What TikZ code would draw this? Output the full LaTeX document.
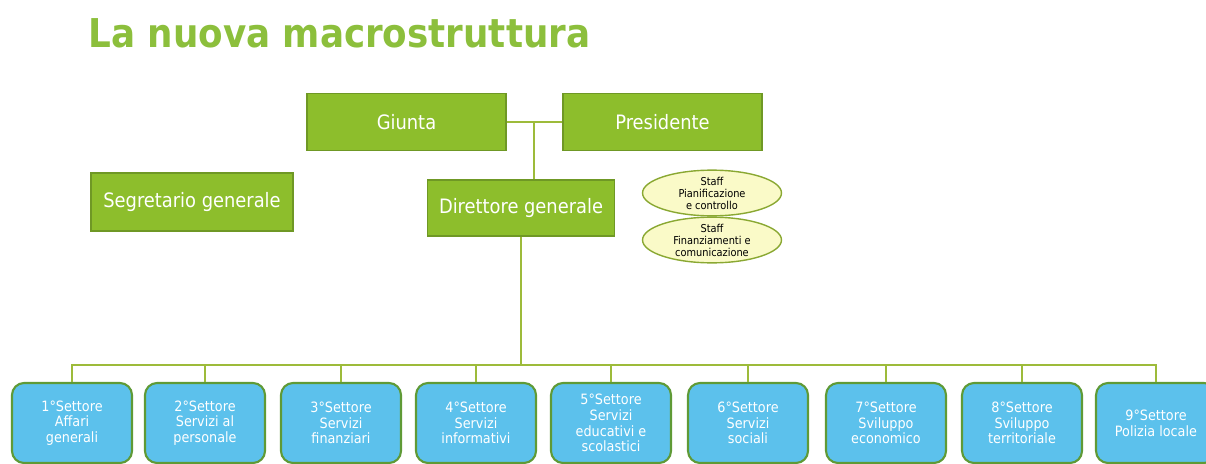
\documentclass[tikz,border=0pt]{standalone}
\usepackage{fontspec}
\setmainfont{DejaVu Sans Condensed}
\usepackage{tikz}
\definecolor{titlegreen}{HTML}{8CBF3C}
\definecolor{boxgreen}{HTML}{8DBE2C}
\definecolor{boxborder}{HTML}{6F9825}
\definecolor{linegreen}{HTML}{9DBB3A}
\definecolor{settoreblue}{HTML}{5CC1EC}
\definecolor{settoreborder}{HTML}{5F9A36}
\definecolor{staffyellow}{HTML}{FAFAC8}
\definecolor{staffborder}{HTML}{8AA832}
\usetikzlibrary{shapes.geometric}

\tikzset{
	organo/.style={draw=boxborder, line width=0.8pt, fill=boxgreen, text=white, align=center, inner sep=0pt, font=\fontsize{11.3}{13}\selectfont},
	staff/.style={draw=staffborder, line width=0.8pt, ellipse, fill=staffyellow, align=center, inner sep=0pt, minimum width=2.78cm, minimum height=0.9cm, font=\fontsize{6.2}{6.8}\selectfont},
	settore/.style={draw=settoreborder, line width=1.2pt, rounded corners=0.24cm, fill=settoreblue, text=white, align=center, inner sep=0pt, minimum width=2.4cm, minimum height=1.6cm, font=\fontsize{8.1}{8.9}\selectfont},
	linea/.style={draw=linegreen, line width=1.3pt}
}

\begin{document}
\begin{tikzpicture}[x=0.02cm, y=-0.02cm]
	\useasboundingbox (0,0) rectangle (1206,463);
	
	\node[anchor=base west, inner sep=0pt, text=titlegreen, font=\fontsize{22.6}{26}\selectfont\bfseries] (titolo) at (88,47.5) {La nuova macrostruttura};
	
	\node[organo, minimum width=3.98cm, minimum height=1.14cm] (giunta) at (406.5,122) {Giunta};
	
	\node[organo, minimum width=3.98cm, minimum height=1.14cm] (presidente) at (662.5,122) {Presidente};
	
	\node[organo, minimum width=4.04cm, minimum height=1.16cm] (segretario) at (192,202) {Segretario generale};
	
	\node[organo, minimum width=3.74cm, minimum height=1.12cm] (direttore) at (521,208) {Direttore generale};
	
	\node[staff] (staffpc) at (712,193) {Staff\\Pianificazione\\e controllo};
	
	\node[staff] (stafffc) at (712,240) {Staff\\Finanziamenti e\\comunicazione};
	
	\node[settore] (s1) at (72,423) {1°Settore\\Affari\\generali};
	\node[settore] (s2) at (205,423) {2°Settore\\Servizi al\\personale};
	\node[settore] (s3) at (341,423) {3°Settore\\Servizi\\finanziari};
	\node[settore] (s4) at (476,423) {4°Settore\\Servizi\\informativi};
	\node[settore] (s5) at (611,423) {5°Settore\\Servizi\\educativi e\\scolastici};
	\node[settore] (s6) at (748,423) {6°Settore\\Servizi\\sociali};
	\node[settore] (s7) at (886,423) {7°Settore\\Sviluppo\\economico};
	\node[settore] (s8) at (1022,423) {8°Settore\\Sviluppo\\territoriale};
	\node[settore] (s9) at (1156,423) {9°Settore\\Polizia locale};
	
	\coordinate (nodo) at (534,122);
	\coordinate (bus) at (521,365);
	
	\draw[linea] (giunta) -- (presidente);
	
	\draw[linea] (nodo) -- (nodo |- direttore.north);
	
	\draw[linea] (direttore) -- (bus);
	
	\foreach \i in {1,...,9}
		\draw[linea] (bus) -| (s\i.north);
\end{tikzpicture}
\end{document}
